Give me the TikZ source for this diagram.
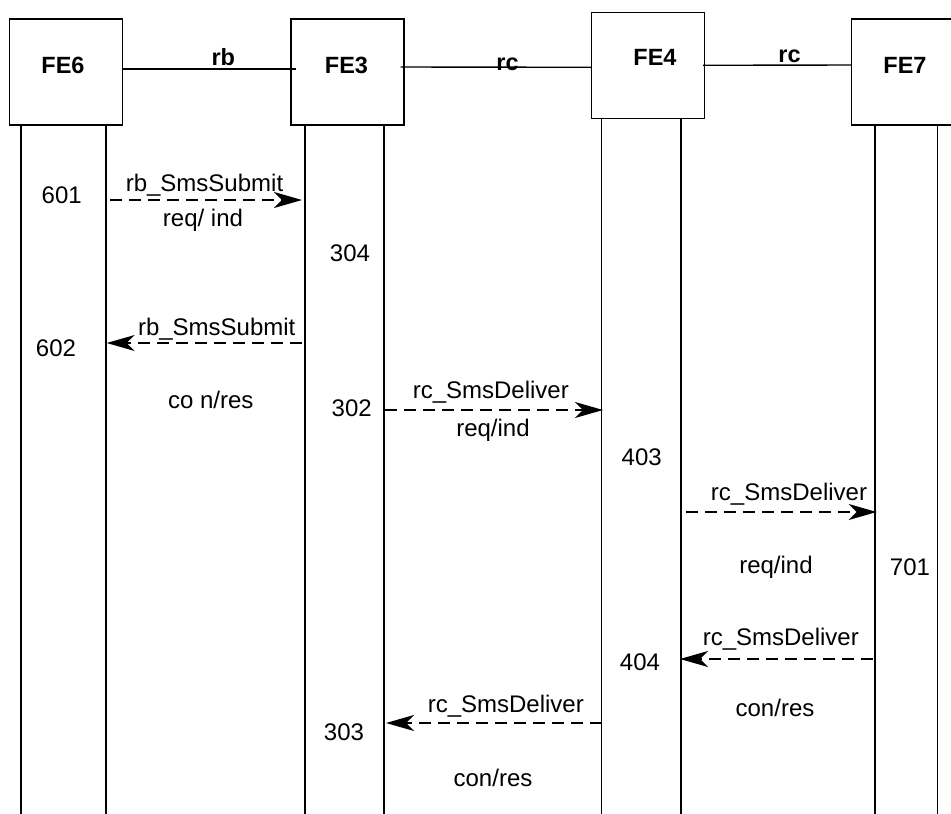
\documentclass[tikz,border=0pt]{standalone}
\usepackage{fontspec}
\setmainfont{Liberation Sans}
\usetikzlibrary{arrows.meta}
\usetikzlibrary{positioning}

\begin{document}
\begin{tikzpicture}[x=1pt,y=-1pt]

\tikzset{
  % boxes of the functional entities
  fe box/.style={draw, line width=1.4pt, minimum width=113pt,
    minimum height=106pt, inner sep=0pt},
  fe name/.style={font=\fontsize{23.5}{28}\selectfont\bfseries, inner sep=0pt},
  link label/.style={font=\fontsize{23.5}{28}\selectfont\bfseries,
    anchor=base, inner sep=0pt},
  link/.style={line width=1.4pt},
  life/.style={line width=1.5pt},
  % dashed message with a big stealth head
  msg/.style={line width=1.5pt, dash pattern=on 12pt off 7pt,
    -{Stealth[length=28pt, width=16pt, inset=8pt]}},
  txt/.style={font=\fontsize{24}{28}\selectfont, anchor=base, inner sep=0pt},
}

\clip (0,0) rectangle (951,814);

\node [fe box, label={[fe name, xshift=-3pt, yshift=6.6pt]center:FE6}] (fe6) at (66,72) {};
\node [fe box, label={[fe name, xshift=-1pt, yshift=6.6pt]center:FE3}] (fe3) at (347.5,72) {};
\node [fe box, label={[fe name, xshift=7pt, yshift=8.2pt]center:FE4}] (fe4) at (648,65.3) {};
\node [fe box, label={[fe name, xshift=-3pt, yshift=6.6pt]center:FE7}] (fe7) at (908,72) {};

% reference points between the entities
\draw [link] ([yshift=3pt]fe6.east) -- ([xshift=6pt,yshift=3pt]fe3.west);
\draw [link] ([xshift=-4pt,yshift=5pt]fe3.east) -- ([yshift=-2pt]fe4.west);
\draw [link] ([xshift=-2pt]fe4.east) -- ([yshift=7pt]fe7.west);
\node [link label] (rb) at (223.3,65) {rb};
\node [link label] (rc34) at (507.5,70) {rc};
\node [link label] (rc47) at (789.5,62.7) {rc};

% life lines
\draw [life] ([xshift=-45pt]fe6.south) -- ++(0,700);
\draw [life] ([xshift=40pt]fe6.south) -- ++(0,700);
\draw [life] ([xshift=-42.5pt]fe3.south) -- ++(0,700);
\draw [life] ([xshift=36.5pt]fe3.south) -- ++(0,700);
\draw [life] ([xshift=-46.3pt]fe4.south) -- ++(0,700);
\draw [life] ([xshift=33pt]fe4.south) -- ++(0,700);
\draw [life] ([xshift=-33pt]fe7.south) -- ++(0,700);
\draw [life] ([xshift=29.5pt]fe7.south) -- ++(0,700);

% message ends
\coordinate (s601) at (110,200);
\coordinate (r304) at (302,200);
\coordinate (s304) at (302,343);
\coordinate (r602) at (106.7,343);
\coordinate (s302) at (385,410);
\coordinate (r403) at (603,410);
\coordinate (s403) at (686,512);
\coordinate (r701) at (876.7,512);
\coordinate (s701) at (873,659);
\coordinate (r404) at (680,659);
\coordinate (s404) at (601.7,723);
\coordinate (r303) at (386,723);

\draw [msg] (s601) -- (r304);
\draw [msg] (s304) -- (r602);
\draw [msg] (s302) -- (r403);
\draw [msg] (s403) -- (r701);
\draw [msg] (s701) -- (r404);
\draw [msg] (s404) -- (r303);

% message names and primitives
\node [txt] (t601) at (61.7,203) {601};
\node [txt] (m1) at (204.5,191) {rb\_SmsSubmit};
\node [txt] (p1) at (203,226) {req/ ind};
\node [txt] (t304) at (350,261.5) {304};
\node [txt] (m2) at (216.7,335) {rb\_SmsSubmit};
\node [txt] (t602) at (56,356.5) {602};
\node [txt] (p2) at (210.7,408) {co n/res};
\node [txt] (t302) at (351.7,416.5) {302};
\node [txt] (m3) at (490.8,398) {rc\_SmsDeliver};
\node [txt] (p3) at (493,436.5) {req/ind};
\node [txt] (t403) at (641.7,465) {403};
\node [txt] (m4) at (789,500) {rc\_SmsDeliver};
\node [txt] (p4) at (776,573) {req/ind};
\node [txt] (t701) at (910,575) {701};
\node [txt] (m5) at (780.8,645) {rc\_SmsDeliver};
\node [txt] (t404) at (640,670) {404};
\node [txt] (p5) at (775,716.7) {con/res};
\node [txt] (m6) at (505.8,712) {rc\_SmsDeliver};
\node [txt] (t303) at (344,740) {303};
\node [txt] (p6) at (493,786) {con/res};

\end{tikzpicture}
\end{document}
